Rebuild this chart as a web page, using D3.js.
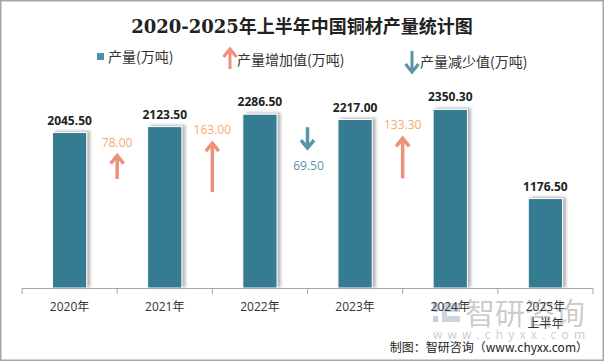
<!DOCTYPE html>
<html>
<head>
<meta charset="utf-8">
<script src="https://cdn.jsdelivr.net/npm/d3@7"></script>
<style>
  body { margin: 0; background: #fff; }
  svg { display: block; font-family: "Open Sans", "Noto Sans CJK SC", sans-serif; }
</style>
</head>
<body>
<div id="chart"></div>
<script>
const years = ['2020年', '2021年', '2022年', '2023年', '2024年', '2025年'];
const yearSub = ['', '', '', '', '', '上半年'];
const output = [2045.5, 2123.5, 2286.5, 2217.0, 2350.3, 1176.5];
// change between consecutive years (2020->2021 ... 2023->2024)
const changes = [78.0, 163.0, -69.5, 133.3];
const legendNames = ['产量(万吨)', '产量增加值(万吨)', '产量减少值(万吨)'];

const w = 604;
const h = 361;
const barColor = '#367b92';
const upColor = '#f0907a';
const downColor = '#5b93ab';
const upLabel = '#f5aa6e';

const svg = d3.select('#chart').append('svg').attr('width', w).attr('height', h);

// shadow for bars
const defs = svg.append('defs');
const f = defs.append('filter').attr('id', 'shadow').attr('x', '-20%').attr('y', '-10%').attr('width', '160%').attr('height', '130%');
f.append('feDropShadow').attr('dx', 3).attr('dy', -1).attr('stdDeviation', 1.4)
  .attr('flood-color', '#777').attr('flood-opacity', 0.55);

// frame
svg.append('rect').attr('x', 0.75).attr('y', 0.75).attr('width', w - 1.5).attr('height', h - 1.5)
  .attr('fill', '#fff').attr('stroke', '#a6a6a6').attr('stroke-width', 1.5);

// title
svg.append('text')
  .attr('x', 302).attr('y', 33)
  .attr('text-anchor', 'middle')
  .attr('font-family', '"DejaVu Serif", "Noto Sans CJK SC", serif')
  .attr('font-size', 18).attr('font-weight', 'bold').attr('fill', '#222')
  .text('2020-2025年上半年中国铜材产量统计图');

// scales
const x = d3.scaleBand().domain(years).range([22, 593]).paddingInner(0.64).paddingOuter(0.32);
const y = d3.scaleLinear().domain([0, 3000]).range([288, 60]);
const arrowLen = d3.scaleLinear().domain([0, 100]).range([0, 30]);
const step = x.step();
const x0 = 22;

// arrow helper
function arrow(g, cx, top, bottom, dir, color, sw) {
  const tip = dir === 'up' ? top : bottom;
  const hd = dir === 'up' ? 8 : -8;
  g.append('line').attr('x1', cx).attr('x2', cx).attr('y1', top).attr('y2', bottom)
    .attr('stroke', color).attr('stroke-width', sw);
  g.append('path')
    .attr('d', `M${cx - 6.5},${tip + hd} L${cx},${tip} L${cx + 6.5},${tip + hd}`)
    .attr('fill', 'none').attr('stroke', color).attr('stroke-width', sw)
    .attr('stroke-linejoin', 'miter');
}

// legend
const leg = svg.append('g').attr('font-size', 14).attr('fill', '#333')
  .attr('font-family', '"Noto Sans CJK SC", sans-serif');
leg.append('rect').attr('x', 97).attr('y', 53).attr('width', 7).attr('height', 7).attr('fill', '#4a8fa8');
leg.append('text').attr('x', 108).attr('y', 62).attr('fill', '#333').text(legendNames[0]);
arrow(leg, 230, 49, 69, 'up', upColor, 3);
leg.append('text').attr('x', 237).attr('y', 65).attr('fill', '#333').text(legendNames[1]);
arrow(leg, 412, 51, 72, 'down', downColor, 3);
leg.append('text').attr('x', 420).attr('y', 67).attr('fill', '#333').text(legendNames[2]);

// bars
svg.append('g').selectAll('rect')
  .data(output)
  .enter()
  .append('rect')
  .attr('x', (d, i) => x(years[i]))
  .attr('y', d => y(d))
  .attr('width', x.bandwidth())
  .attr('height', d => y(0) - y(d))
  .attr('fill', barColor)
  .attr('stroke', '#fff')
  .attr('stroke-width', 1)
  .attr('filter', 'url(#shadow)');

// bar values
svg.append('g').selectAll('text')
  .data(output)
  .enter()
  .append('text')
  .attr('x', (d, i) => x(years[i]) + x.bandwidth() / 2)
  .attr('y', d => y(d) - 8)
  .attr('text-anchor', 'middle')
  .attr('font-size', 12).attr('font-weight', 'bold').attr('fill', '#222')
  .text(d => d.toFixed(2));

// change arrows
const ag = svg.append('g');
changes.forEach((c, i) => {
  const cx = x0 + (i + 1) * step;
  const hi = Math.max(output[i], output[i + 1]);
  const len = arrowLen(Math.abs(c));
  if (c >= 0) {
    const top = y(hi) + 29;
    arrow(ag, cx, top, top + len, 'up', upColor, 3.5);
    ag.append('text').attr('x', cx).attr('y', top - 9)
      .attr('text-anchor', 'middle').attr('font-size', 12).attr('fill', upLabel)
      .text(c.toFixed(2));
  } else {
    const top = y(hi) + 13;
    arrow(ag, cx, top, top + len, 'down', downColor, 3.5);
    ag.append('text').attr('x', cx + 1).attr('y', top + len + 22)
      .attr('text-anchor', 'middle').attr('font-size', 12).attr('fill', downColor)
      .text(Math.abs(c).toFixed(2));
  }
});

// watermark
const wm = svg.append('g');
wm.append('rect').attr('x', 433).attr('y', 303).attr('width', 5).attr('height', 9).attr('fill', '#c3d0dc');
wm.append('rect').attr('x', 433).attr('y', 316).attr('width', 5).attr('height', 6).attr('fill', '#c3d0dc');
wm.append('path').attr('d', 'M442,303 H460 V312 H447 V316 H460 V322 H442 Z').attr('fill', '#c9d5e0');
wm.append('text').attr('x', 465).attr('y', 324)
  .attr('font-family', '"Noto Sans CJK SC", sans-serif')
  .attr('font-size', 30).attr('fill', '#c4c4c4').attr('opacity', 0.85).text('智研咨询');
wm.append('text').attr('x', 433).attr('y', 339)
  .attr('font-size', 12).attr('fill', '#cdcdcd').attr('textLength', 152)
  .attr('lengthAdjust', 'spacing').text('www.chyxx.com');

// x axis
const axis = svg.append('g');
axis.append('line').attr('x1', x0).attr('x2', x0 + 6 * step).attr('y1', 288.5).attr('y2', 288.5)
  .attr('stroke', '#a6a6a6').attr('stroke-width', 1);
axis.selectAll('.tick')
  .data(d3.range(7))
  .enter()
  .append('line')
  .attr('x1', i => x0 + i * step).attr('x2', i => x0 + i * step)
  .attr('y1', 288.5).attr('y2', 294)
  .attr('stroke', '#a6a6a6');
axis.selectAll('.lbl')
  .data(years)
  .enter()
  .append('text')
  .attr('x', d => x(d) + x.bandwidth() / 2)
  .attr('y', 311)
  .attr('text-anchor', 'middle')
  .attr('font-size', 12).attr('fill', '#333')
  .text(d => d);
axis.selectAll('.sub')
  .data(yearSub)
  .enter()
  .append('text')
  .attr('x', (d, i) => x(years[i]) + x.bandwidth() / 2)
  .attr('y', 328)
  .attr('text-anchor', 'middle')
  .attr('font-size', 12).attr('fill', '#333')
  .text(d => d);

// source
svg.append('text').attr('x', 588).attr('y', 352)
  .attr('text-anchor', 'end')
  .attr('font-family', '"Noto Sans CJK SC", sans-serif')
  .attr('font-size', 12).attr('fill', '#222')
  .text('制图：智研咨询（www.chyxx.com）');
</script>
</body>
</html>
